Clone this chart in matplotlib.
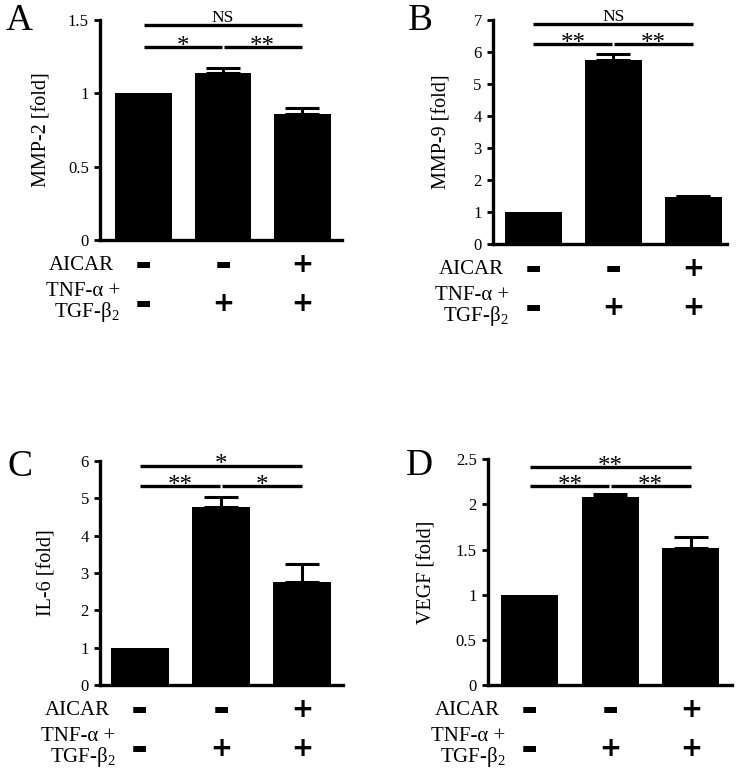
import numpy as np
import matplotlib
matplotlib.use("Agg")
import matplotlib.pyplot as plt

plt.rcParams["font.family"] = ["Liberation Serif", "DejaVu Serif"]
plt.rcParams["mathtext.default"] = "regular"

# Treatment rows under each chart
aicar = ["-", "-", "+"]
tnf_tgf = ["-", "+", "+"]

# Fold values (mean, upper error)
mmp2 = [1.0, 1.14, 0.86]
mmp2_err = [0, 0.03, 0.04]
mmp9 = [1.0, 5.74, 1.46]
mmp9_err = [0, 0.20, 0.04]
il6 = [1.0, 4.78, 2.75]
il6_err = [0, 0.26, 0.48]
vegf = [1.0, 2.08, 1.52]
vegf_err = [0, 0.03, 0.12]

# Significance marks: [overall (0 vs 2), (0 vs 1), (1 vs 2)]
sig_a = ["NS", "*", "**"]
sig_b = ["NS", "**", "**"]
sig_c = ["*", "**", "*"]
sig_d = ["**", "**", "**"]

panels = [
    # letter, ylabel, values, errors, sig, yticks, ticklabels, sig levels, axes rect, xlim,
    # ylabel x (axes frac), letter pos (axes frac)
    ("A", "MMP-2 [fold]", mmp2, mmp2_err, sig_a, [0, 0.5, 1, 1.5], ["0", "0.5", "1", "1.5"],
     (1.466, 1.316), [0.1353, 0.6895, 0.3275, 0.2845], (-0.55, 2.5), -0.24, (-0.335, 0.995)),
    ("B", "MMP-9 [fold]", mmp9, mmp9_err, sig_b, list(range(8)), [str(i) for i in range(8)],
     (6.875, 6.24), [0.667, 0.6843, 0.317, 0.2897], (-0.5, 2.42), -0.218, (-0.31, 0.995)),
    ("C", "IL-6 [fold]", il6, il6_err, sig_c, list(range(7)), [str(i) for i in range(7)],
     (5.87, 5.33), [0.1353, 0.1138, 0.3287, 0.2898], (-0.49, 2.5), -0.218, (-0.33, 0.973)),
    ("D", "VEGF [fold]", vegf, vegf_err, sig_d, [0, 0.5, 1, 1.5, 2, 2.5], ["0", "0.5", "1", "1.5", "2", "2.5"],
     (2.41, 2.20), [0.660, 0.1138, 0.3305, 0.2922], (-0.52, 2.51), -0.25, (-0.28, 0.973)),
]

fig = plt.figure(figsize=(7.39, 7.73), dpi=100)

for letter, ylab, vals, errs, sig, yt, ytl, levels, rect, xl, labx, lpos in panels:
    ax = fig.add_axes(rect)
    x = np.arange(len(vals))
    ax.bar(x, vals, width=0.71, color="black")
    ax.errorbar(x[1:], vals[1:], yerr=[[0] * (len(vals) - 1), errs[1:]], fmt="none",
                ecolor="black", elinewidth=2.2, capsize=12, capthick=2.2)
    ax.set_xlim(*xl)
    ax.set_ylim(0, yt[-1])
    ax.set_yticks(yt)
    ax.set_yticklabels(ytl, fontsize=12)
    ax.set_xticks([])
    for s in ["top", "right"]:
        ax.spines[s].set_visible(False)
    for s in ["left", "bottom"]:
        ax.spines[s].set_linewidth(2.4)
    ax.tick_params(axis="y", direction="out", length=4, width=2, pad=4)
    ax.set_ylabel(ylab, fontsize=14.5, va="center")
    ax.yaxis.set_label_coords(labx, 0.5)

    # significance bars
    top, low = levels
    ax.plot([0, 2], [top, top], color="black", lw=2.4, clip_on=False, solid_capstyle="butt")
    ax.plot([0, 0.99], [low, low], color="black", lw=2.4, clip_on=False, solid_capstyle="butt")
    ax.plot([1.01, 2], [low, low], color="black", lw=2.4, clip_on=False, solid_capstyle="butt")
    for txt, xc, yc in [(sig[0], 1, top), (sig[1], 0.5, low), (sig[2], 1.5, low)]:
        if txt == "NS":
            ax.annotate(txt, (xc, yc), xytext=(0, 2), textcoords="offset points",
                        ha="center", va="baseline", fontsize=12.5, annotation_clip=False)
        else:
            ax.annotate(txt, (xc, yc), xytext=(0, -4), textcoords="offset points",
                        ha="center", va="baseline", fontsize=18, annotation_clip=False)

    # treatment rows
    ax.annotate("AICAR", (-0.37, 0), xytext=(0, -18), textcoords="offset points",
                ha="right", va="center", fontsize=15, annotation_clip=False)
    ax.annotate("TNF-α +", (-0.3, 0), xytext=(0, -37), textcoords="offset points",
                ha="right", va="center", fontsize=15, annotation_clip=False)
    ax.annotate("TGF-β$_2$", (-0.3, 0), xytext=(0, -52), textcoords="offset points",
                ha="right", va="center", fontsize=15, annotation_clip=False)
    for i in x:
        for sign, off in [(aicar[i], -18), (tnf_tgf[i], -46)]:
            if sign == "-":
                ax.annotate(sign, (i, 0), xytext=(0, off), textcoords="offset points",
                            ha="center", va="center", fontsize=30, fontweight="bold",
                            family="DejaVu Sans", annotation_clip=False)
            else:
                ax.annotate(sign, (i, 0), xytext=(0, off), textcoords="offset points",
                            ha="center", va="center", fontsize=19, fontweight="bold",
                            family="DejaVu Sans", annotation_clip=False)

    # panel letter
    ax.text(lpos[0], lpos[1], letter, transform=ax.transAxes, ha="center", va="center", fontsize=27)

fig.savefig("out.png", dpi=100)
